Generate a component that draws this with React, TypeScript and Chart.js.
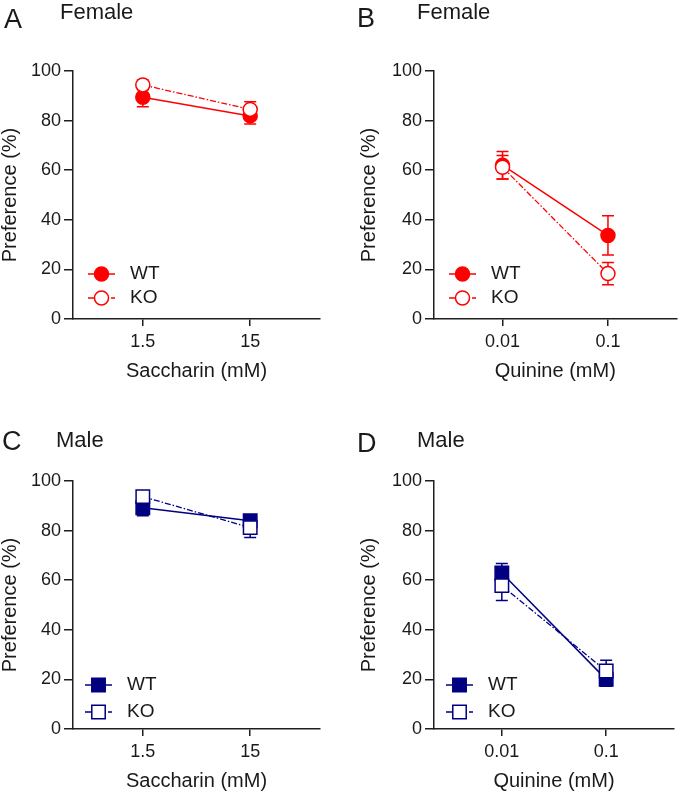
import React, { useEffect, useRef } from 'react';
import { Chart, registerables } from 'chart.js';

Chart.register(...registerables);

// ---------- data ----------
const SACCHARIN_LABELS = ['1.5', '15'];
const QUININE_LABELS = ['0.01', '0.1'];
const Y_TICKS = [0, 20, 40, 60, 80, 100];
const SERIES_NAMES = ['WT', 'KO'];

const FEMALE_SACC_WT = [89.4, 81.9];
const FEMALE_SACC_WT_ERR = [3.8, 3.3];
const FEMALE_SACC_KO = [94.4, 84.5];
const FEMALE_SACC_KO_ERR = [2.0, 3.1];

const FEMALE_QUIN_WT = [62.0, 33.7];
const FEMALE_QUIN_WT_ERR = [5.5, 7.9];
const FEMALE_QUIN_KO = [61.2, 18.3];
const FEMALE_QUIN_KO_ERR = [4.7, 4.5];

const MALE_SACC_WT = [89.2, 84.0];
const MALE_SACC_WT_ERR = [3.2, 1.8];
const MALE_SACC_KO = [93.7, 81.2];
const MALE_SACC_KO_ERR = [2.0, 4.0];

const MALE_QUIN_WT = [62.9, 20.0];
const MALE_QUIN_WT_ERR = [3.8, 2.8];
const MALE_QUIN_KO = [57.8, 23.4];
const MALE_QUIN_KO_ERR = [6.0, 4.3];

// ---------- styles ----------
const FONT = '"Liberation Sans", Arial, Helvetica, sans-serif';
const AXIS = '#1e1e1e';
const TEXT = '#1a1a1a';
const RED = '#ff0000';
const NAVY = '#000080';

const errorBarPlugin = {
  id: 'errorBars',
  beforeDatasetsDraw(chart: any) {
    const ctx = chart.ctx;
    const yScale = chart.scales.y;
    chart.data.datasets.forEach((ds: any, di: number) => {
      const meta = chart.getDatasetMeta(di);
      const errs: number[] = ds.errors || [];
      ctx.save();
      ctx.strokeStyle = ds.borderColor;
      ctx.lineWidth = 1.5;
      ctx.setLineDash([]);
      meta.data.forEach((pt: any, i: number) => {
        const v = ds.data[i].y;
        const e = errs[i] || 0;
        const yt = yScale.getPixelForValue(v + e);
        const yb = yScale.getPixelForValue(v - e);
        const x = pt.x;
        const cw = 6;
        ctx.beginPath();
        ctx.moveTo(x, yt);
        ctx.lineTo(x, yb);
        ctx.moveTo(x - cw, yt);
        ctx.lineTo(x + cw, yt);
        ctx.moveTo(x - cw, yb);
        ctx.lineTo(x + cw, yb);
        ctx.stroke();
      });
      ctx.restore();
    });
  },
};

const decorPlugin = {
  id: 'panelDecor',
  afterDraw(chart: any, _args: any, opts: any) {
    const ctx = chart.ctx;
    const area = chart.chartArea;
    ctx.save();
    ctx.fillStyle = TEXT;
    ctx.textBaseline = 'alphabetic';
    ctx.textAlign = 'left';
    ctx.font = `27px ${FONT}`;
    ctx.fillText(opts.letter, opts.letterX, opts.letterY);
    ctx.font = `22px ${FONT}`;
    ctx.fillText(opts.title, opts.titleX, opts.titleY);

    // legend
    const lg = opts.legend;
    chart.data.datasets.forEach((ds: any, i: number) => {
      const y = area.bottom - lg.rows[i];
      const xm = area.left + lg.xm;
      ctx.save();
      ctx.strokeStyle = ds.borderColor;
      ctx.lineWidth = ds.borderWidth;
      ctx.setLineDash(ds.borderDash || []);
      ctx.beginPath();
      ctx.moveTo(area.left + lg.x0, y);
      ctx.lineTo(area.left + lg.x1, y);
      ctx.stroke();
      ctx.setLineDash([]);
      ctx.beginPath();
      if (ds.pointStyle === 'rect') {
        const h = ds.pointRadius * Math.SQRT1_2;
        ctx.rect(xm - h, y - h, 2 * h, 2 * h);
      } else {
        ctx.arc(xm, y, ds.pointRadius, 0, Math.PI * 2);
      }
      ctx.fillStyle = ds.pointBackgroundColor;
      ctx.strokeStyle = ds.borderColor;
      ctx.lineWidth = ds.pointBorderWidth;
      ctx.fill();
      ctx.stroke();
      ctx.restore();
      ctx.fillStyle = TEXT;
      ctx.font = `19px ${FONT}`;
      ctx.textBaseline = 'middle';
      ctx.fillText(ds.label, area.left + lg.xt, y);
    });
    ctx.restore();
  },
};

type PanelProps = {
  left: number;
  top: number;
  width: number;
  height: number;
  yAxisWidth: number;
  yTitlePad: number;
  padRight: number;
  padBottom: number;
  letter: string;
  title: string;
  letterX: number;
  letterY: number;
  titleX: number;
  titleY: number;
  xLabels: string[];
  xTitle: string;
  wt: number[];
  wtErr: number[];
  ko: number[];
  koErr: number[];
  color: string;
  pointStyle: string;
  radius: number;
  legend: any;
};

function Panel(p: PanelProps) {
  const ref = useRef<HTMLCanvasElement>(null);
  useEffect(() => {
    if (!ref.current) return;
    const mk = (vals: number[]) => vals.map((v, i) => ({ x: i, y: v }));
    const chart = new Chart(ref.current, {
      type: 'line',
      data: {
        datasets: [
          {
            label: SERIES_NAMES[0],
            data: mk(p.wt),
            errors: p.wtErr,
            borderColor: p.color,
            backgroundColor: p.color,
            pointBackgroundColor: p.color,
            pointBorderColor: p.color,
            pointStyle: p.pointStyle,
            pointRadius: p.radius,
            pointBorderWidth: 1.5,
            borderWidth: 1.5,
            tension: 0,
            fill: false,
            order: 2,
          } as any,
          {
            label: SERIES_NAMES[1],
            data: mk(p.ko),
            errors: p.koErr,
            borderColor: p.color,
            backgroundColor: '#ffffff',
            pointBackgroundColor: '#ffffff',
            pointBorderColor: p.color,
            pointStyle: p.pointStyle,
            pointRadius: p.radius,
            pointBorderWidth: 1.5,
            borderWidth: 1.3,
            borderDash: [6, 2, 1.5, 2],
            tension: 0,
            fill: false,
            order: 1,
          } as any,
        ],
      },
      options: {
        animation: false,
        responsive: false,
        maintainAspectRatio: false,
        layout: { padding: { top: 71, left: 0, right: p.padRight, bottom: p.padBottom } },
        plugins: {
          legend: { display: false },
          tooltip: { enabled: false },
          panelDecor: {
            letter: p.letter,
            title: p.title,
            letterX: p.letterX,
            letterY: p.letterY,
            titleX: p.titleX,
            titleY: p.titleY,
            legend: p.legend,
          },
        } as any,
        scales: {
          x: {
            type: 'linear',
            min: -0.65,
            max: 1.65,
            afterBuildTicks: (s: any) => {
              s.ticks = p.xLabels.map((_, i) => ({ value: i }));
            },
            afterFit: (s: any) => {
              s.height = 66;
            },
            ticks: {
              callback: (v: any) => p.xLabels[v] ?? '',
              font: { family: FONT, size: 18 },
              color: TEXT,
              padding: 5,
              autoSkip: false,
              maxRotation: 0,
            },
            grid: {
              drawOnChartArea: false,
              drawTicks: true,
              tickLength: 7,
              color: AXIS,
              lineWidth: 1.5,
            },
            border: { display: true, color: AXIS, width: 1.5 },
            title: {
              display: true,
              text: p.xTitle,
              color: TEXT,
              font: { family: FONT, size: 20, lineHeight: 1 },
              padding: { top: 0, bottom: 4 },
            },
          },
          y: {
            min: 0,
            max: 100,
            afterBuildTicks: (s: any) => {
              s.ticks = Y_TICKS.map((v) => ({ value: v }));
            },
            afterFit: (s: any) => {
              s.width = p.yAxisWidth;
            },
            ticks: {
              font: { family: FONT, size: 18 },
              color: TEXT,
              padding: 3,
            },
            grid: {
              drawOnChartArea: false,
              drawTicks: true,
              tickLength: 9,
              color: AXIS,
              lineWidth: 1.5,
            },
            border: { display: true, color: AXIS, width: 1.5 },
            title: {
              display: true,
              text: 'Preference (%)',
              color: TEXT,
              font: { family: FONT, size: 20, lineHeight: 1 },
              padding: { top: p.yTitlePad, bottom: 0 },
            },
          },
        },
      },
      plugins: [errorBarPlugin, decorPlugin],
    });
    return () => chart.destroy();
  }, []);
  return (
    <canvas
      ref={ref}
      width={p.width}
      height={p.height}
      style={{ position: 'absolute', left: p.left, top: p.top, width: p.width, height: p.height }}
    />
  );
}

const LEGEND_TOP = { x0: 15, x1: 42, xm: 28.5, xt: 57, rows: [45, 21] };
const LEGEND_BOTTOM = { x0: 12, x1: 39, xm: 25.5, xt: 54, rows: [44, 17] };

export default function App() {
  return (
    <div
      style={{
        position: 'absolute',
        left: 0,
        top: 0,
        width: 685,
        height: 796,
        background: '#ffffff',
        overflow: 'hidden',
      }}
    >
      <Panel
        left={0}
        top={0}
        width={345}
        height={400}
        yAxisWidth={73}
        yTitlePad={0}
        padRight={25}
        padBottom={15}
        letter="A"
        title="Female"
        letterX={4}
        letterY={28}
        titleX={60}
        titleY={18.5}
        xLabels={SACCHARIN_LABELS}
        xTitle="Saccharin (mM)"
        wt={FEMALE_SACC_WT}
        wtErr={FEMALE_SACC_WT_ERR}
        ko={FEMALE_SACC_KO}
        koErr={FEMALE_SACC_KO_ERR}
        color={RED}
        pointStyle="circle"
        radius={7}
        legend={LEGEND_TOP}
      />
      <Panel
        left={345}
        top={0}
        width={340}
        height={400}
        yAxisWidth={89}
        yTitlePad={14}
        padRight={5}
        padBottom={15}
        letter="B"
        title="Female"
        letterX={12}
        letterY={27}
        titleX={72}
        titleY={18.5}
        xLabels={QUININE_LABELS}
        xTitle="Quinine (mM)"
        wt={FEMALE_QUIN_WT}
        wtErr={FEMALE_QUIN_WT_ERR}
        ko={FEMALE_QUIN_KO}
        koErr={FEMALE_QUIN_KO_ERR}
        color={RED}
        pointStyle="circle"
        radius={7}
        legend={LEGEND_TOP}
      />
      <Panel
        left={0}
        top={410}
        width={345}
        height={386}
        yAxisWidth={73}
        yTitlePad={0}
        padRight={25}
        padBottom={1}
        letter="C"
        title="Male"
        letterX={2}
        letterY={40}
        titleX={56}
        titleY={36.7}
        xLabels={SACCHARIN_LABELS}
        xTitle="Saccharin (mM)"
        wt={MALE_SACC_WT}
        wtErr={MALE_SACC_WT_ERR}
        ko={MALE_SACC_KO}
        koErr={MALE_SACC_KO_ERR}
        color={NAVY}
        pointStyle="rect"
        radius={9.5}
        legend={LEGEND_BOTTOM}
      />
      <Panel
        left={345}
        top={410}
        width={340}
        height={386}
        yAxisWidth={89}
        yTitlePad={14}
        padRight={3}
        padBottom={1}
        letter="D"
        title="Male"
        letterX={12}
        letterY={41.5}
        titleX={72}
        titleY={36.7}
        xLabels={QUININE_LABELS}
        xTitle="Quinine (mM)"
        wt={MALE_QUIN_WT}
        wtErr={MALE_QUIN_WT_ERR}
        ko={MALE_QUIN_KO}
        koErr={MALE_QUIN_KO_ERR}
        color={NAVY}
        pointStyle="rect"
        radius={9.5}
        legend={LEGEND_BOTTOM}
      />
    </div>
  );
}
